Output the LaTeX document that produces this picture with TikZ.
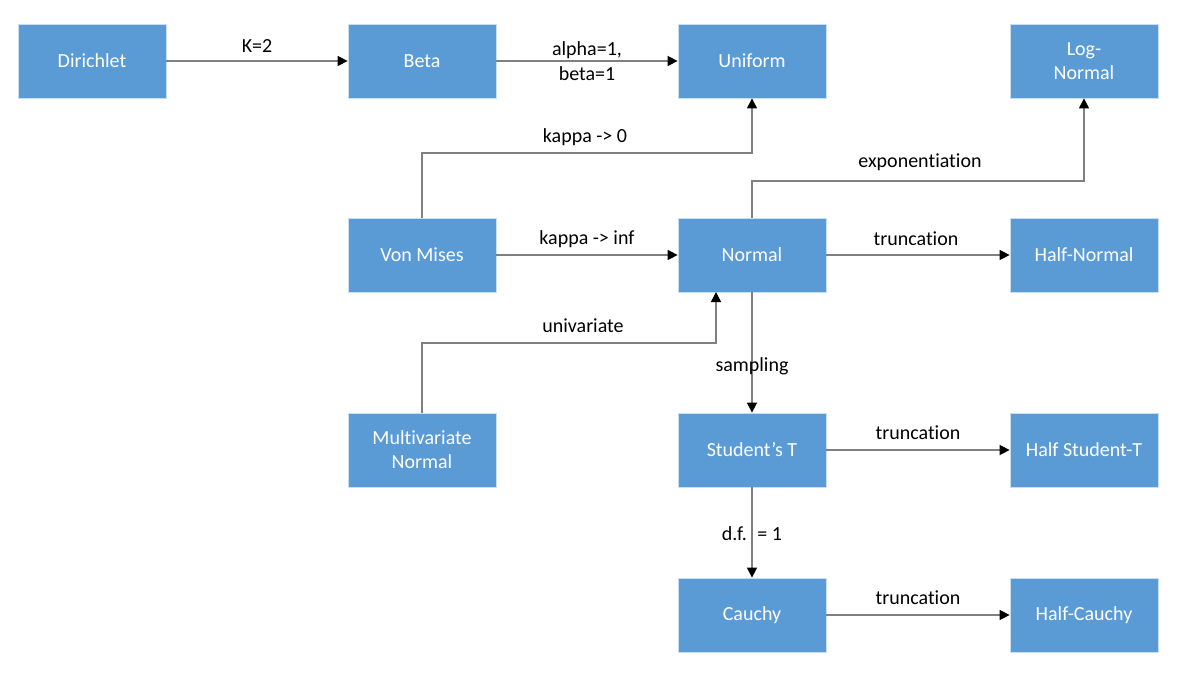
\documentclass[tikz,border=0pt]{standalone}
\usepackage{fontspec}
\setmainfont{Carlito}[Ligatures=CommonOff]
\usetikzlibrary{arrows.meta}
\definecolor{boxblue}{RGB}{91,155,213}
\definecolor{boxedge}{RGB}{200,222,242}
\definecolor{linkgray}{RGB}{128,128,128}
\begin{document}
\begin{tikzpicture}[x=0.75pt,y=-0.75pt,
  dist/.style={rectangle,fill=boxblue,draw=boxedge,line width=0.6pt,
    minimum width=111pt,minimum height=55.5pt,inner sep=2pt,
    text=white,align=center,font=\fontsize{15}{18}\selectfont},
  link/.style={draw=linkgray,line width=1.1pt,
    -{Triangle[length=7.5pt,width=7.5pt,color=black]}},
  lbl/.style={font=\fontsize{15}{18.5}\selectfont,text=black,align=center,inner sep=1pt}]
\useasboundingbox (0,0) rectangle (1181,677);
% distribution boxes
\node[dist] (dir)  at (92,61)   {Dirichlet};
\node[dist] (beta) at (422,61)  {Beta};
\node[dist] (unif) at (752,61)  {Uniform};
\node[dist] (logn) at (1084,61) {Log-\\Normal};
\node[dist] (vm)   at (422,255) {Von Mises};
\node[dist] (norm) at (752,255) {Normal};
\node[dist] (hn)   at (1084,255) {Half-Normal};
\node[dist] (mvn)  at (422,450) {Multivariate\\Normal};
\node[dist] (st)   at (752,450) {Student’s T};
\node[dist] (hst)  at (1084,450) {Half Student-T};
\node[dist] (cau)  at (752,615) {Cauchy};
\node[dist] (hc)   at (1084,615) {Half-Cauchy};
% relations
\draw[link] (dir) -- (beta);
\node[lbl] at (257,46) {K=2};
\draw[link] (beta) -- (unif);
\node[lbl] at (587,61) {alpha=1,\\beta=1};
\draw[link] (vm.north) |- (587,153) -| (unif.south);
\node[lbl] at (585,137) {kappa -> 0};
\draw[link] (vm) -- (norm);
\node[lbl] at (587,239) {kappa -> inf};
\draw[link] (norm.north) |- (920,181) -| (logn.south);
\node[lbl] at (920,162) {exponentiation};
\draw[link] (norm) -- (hn);
\node[lbl] at (916,239) {truncation};
\draw[link] (mvn.north) |- (583,343) -| (716,292);
\node[lbl] at (583,326) {univariate};
\draw[link] (norm) -- (st);
\node[lbl] at (752,366) {sampling};
\draw[link] (st) -- (hst);
\node[lbl] at (918,433) {truncation};
\draw[link] (st) -- (cau);
\node[lbl] at (752,534) {d.f. \ = 1};
\draw[link] (cau) -- (hc);
\node[lbl] at (918,598) {truncation};
\end{tikzpicture}
\end{document}
